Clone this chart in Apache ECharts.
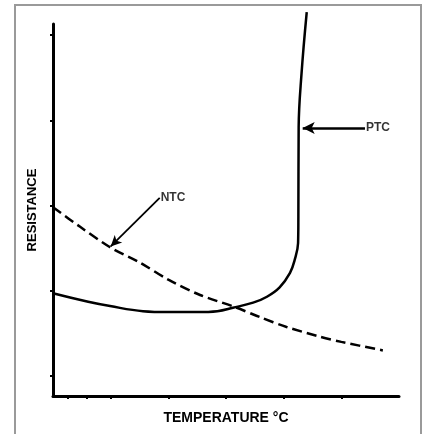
<!DOCTYPE html>
<html>
<head>
<meta charset="utf-8">
<script src="https://cdn.jsdelivr.net/npm/echarts@6/dist/echarts.min.js"></script>
<style>html,body{margin:0;padding:0;background:#fff}#c{width:423px;height:434px}</style>
</head>
<body>
<div id="c"></div>
<script>
// Data (x in temperature tick units, y in resistance tick units)
const ptcX = [0, 0.61, 0.99, 1.56, 2.0, 2.5, 2.85, 3.12, 3.47, 3.71, 3.93, 4.11, 4.19, 4.25, 4.255, 4.26, 4.31, 4.40];
const ptcY = [1.97, 1.87, 1.82, 1.76, 1.75, 1.75, 1.76, 1.80, 1.86, 1.93, 2.04, 2.21, 2.36, 2.56, 2.87, 3.92, 4.55, 5.27];
const ntcX = [0, 0.47, 0.99, 1.51, 2.0, 2.55, 3.15, 3.59, 4.05, 4.63, 5.0, 5.72];
const ntcY = [2.98, 2.75, 2.51, 2.33, 2.13, 1.95, 1.81, 1.69, 1.575, 1.46, 1.40, 1.30];
const xTicks = [0.26, 0.59, 1, 2, 3, 4, 5];
const yTicks = [1, 2, 3, 4, 5];
const ptcArrow = [[5.41, 3.91], [4.33, 3.91]];
const ntcArrow = [[1.85, 3.09], [1.0, 2.52]];
const curveLabels = ['PTC', 'NTC'];
const xName = 'TEMPERATURE °C';
const yName = 'RESISTANCE';

const font = 'Liberation Sans, Arial, sans-serif';
const zip = (a, b) => a.map((v, i) => [v, b[i]]);
const chart = echarts.init(document.getElementById('c'));
chart.setOption({
  animation: false,
  backgroundColor: '#fff',
  graphic: [{
    type: 'rect', shape: {x: 15, y: 5, width: 406, height: 440},
    style: {fill: 'none', stroke: '#9a9a9a', lineWidth: 2}, silent: true
  }],
  grid: {left: 53, top: 24, right: 24, bottom: 38},
  xAxis: {
    type: 'value', min: 0, max: 6,
    name: xName, nameLocation: 'middle', nameGap: 15,
    nameTextStyle: {fontFamily: font, fontWeight: 'bold', fontSize: 14, color: '#000'},
    axisLine: {show: true, lineStyle: {color: '#000', width: 3}},
    axisTick: {show: true, customValues: xTicks, length: 3, inside: false, lineStyle: {color: '#000', width: 2}},
    axisLabel: {show: false},
    splitLine: {show: false}
  },
  yAxis: {
    type: 'value', min: 0.765, max: 5.13,
    name: yName, nameLocation: 'middle', nameGap: 14, nameRotate: 90,
    nameTextStyle: {fontFamily: font, fontWeight: 'bold', fontSize: 13, color: '#000'},
    axisLine: {show: true, lineStyle: {color: '#000', width: 3}},
    axisTick: {show: true, customValues: yTicks, length: 3, inside: false, lineStyle: {color: '#000', width: 2}},
    axisLabel: {show: false},
    splitLine: {show: false}
  },
  series: [
    {
      name: 'PTC', type: 'line', data: zip(ptcX, ptcY), smooth: 0.4, clip: false,
      showSymbol: false, lineStyle: {color: '#000', width: 2.5},
      markLine: {
        silent: true, symbol: ['none', 'arrow'], symbolSize: [9, 12],
        lineStyle: {color: '#000', width: 2.5, type: 'solid'},
        label: {show: false},
        data: [[{coord: ptcArrow[0]}, {coord: ptcArrow[1]}]]
      }
    },
    {
      name: 'NTC', type: 'line', data: zip(ntcX, ntcY), smooth: 0.3,
      showSymbol: false, lineStyle: {color: '#000', width: 2.5, type: [10, 5]},
      markLine: {
        silent: true, symbol: ['none', 'arrow'], symbolSize: [8, 11],
        lineStyle: {color: '#000', width: 1.8, type: 'solid'},
        label: {show: false},
        data: [[{coord: ntcArrow[0]}, {coord: ntcArrow[1]}]]
      }
    },
    {
      name: 'labels', type: 'scatter', symbolSize: 0, silent: true,
      data: [
        {value: ptcArrow[0], name: curveLabels[0]},
        {value: ntcArrow[0], name: curveLabels[1]}
      ],
      label: {show: true, position: 'right', distance: 1, formatter: '{b}', fontFamily: font, fontWeight: 'bold', fontSize: 12, color: '#000'}
    }
  ]
});
</script>
</body>
</html>
